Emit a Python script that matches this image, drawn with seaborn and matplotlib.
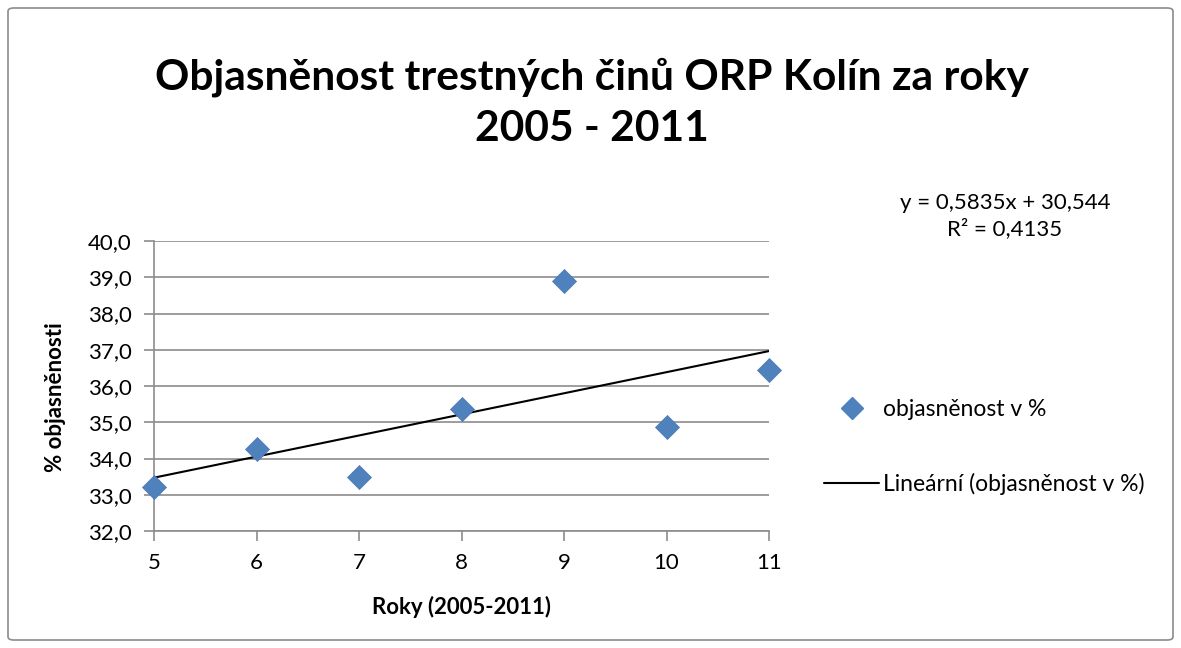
import matplotlib
matplotlib.use("Agg")
import matplotlib.pyplot as plt
import seaborn as sns
import pandas as pd
from matplotlib.patches import FancyBboxPatch
from matplotlib.lines import Line2D

years = [5, 6, 7, 8, 9, 10, 11]
values = [33.22, 34.25, 33.48, 35.37, 38.89, 34.88, 36.43]
y_ticks = [32.0, 33.0, 34.0, 35.0, 36.0, 37.0, 38.0, 39.0, 40.0]
x_ticks = [5, 6, 7, 8, 9, 10, 11]

title = "Objasněnost trestných činů ORP Kolín za roky\n2005 - 2011"
series_label = "objasněnost v %"
trend_label = "Lineární (objasněnost v %)"
equation = "y = 0,5835x + 30,544\nR² = 0,4135"

sns.set_theme(style="white")
plt.rcParams["font.family"] = ["Lato", "DejaVu Sans"]
plt.rcParams["text.color"] = "black"

df = pd.DataFrame({"rok": years, "val": values})

fig = plt.figure(figsize=(11.81, 6.48), dpi=100)
ax = fig.add_axes([154 / 1181, 1 - 531 / 648, (769 - 154) / 1181, (531 - 241) / 648])

# figure border
fig.patches.append(FancyBboxPatch((8 / 1181, 8 / 648), 1165 / 1181, 632 / 648,
                                  boxstyle="round,pad=0,rounding_size=0.005",
                                  transform=fig.transFigure, fill=False,
                                  edgecolor="#8c8c8c", linewidth=1.2))

sns.regplot(data=df, x="rok", y="val", scatter=False, ci=None, ax=ax,
            line_kws=dict(color="black", lw=1.5, zorder=3))
sns.scatterplot(data=df, x="rok", y="val", marker="D", s=150, color="#4f81bd",
                edgecolor="#4a7ab5", linewidth=0.5, ax=ax, zorder=4, clip_on=False)

ax.set_xlim(5, 11)
ax.set_ylim(32, 40)
ax.set_xticks(x_ticks)
ax.set_xticklabels([str(x) for x in x_ticks])
ax.set_yticks(y_ticks)
ax.set_yticklabels([f"{v:.1f}".replace(".", ",") for v in y_ticks])
ax.yaxis.grid(True, color="#8c8c8c", lw=1.2)
ax.xaxis.grid(False)
for s in ["top", "right"]:
    ax.spines[s].set_visible(False)
for s in ["left", "bottom"]:
    ax.spines[s].set_color("#8c8c8c")
    ax.spines[s].set_linewidth(1.2)
ax.tick_params(axis="both", which="major", direction="out", length=7, width=1.2,
               color="#8c8c8c", labelsize=16, labelcolor="black", pad=9)
ax.tick_params(left=True, bottom=True)
ax.set_xlabel("")
ax.set_ylabel("")

fig.text(462 / 1181, 1 - 607 / 648, "Roky (2005-2011)", ha="center", va="center",
         fontsize=16, fontweight="bold")
fig.text(55 / 1181, 1 - 397 / 648, "% objasněnosti", ha="center", va="center",
         rotation=90, fontsize=16, fontweight="bold")

fig.text(592 / 1181, 1 - 103 / 648, title, ha="center", va="center",
         fontsize=30.6, fontweight="bold", linespacing=1.42)
fig.text(1005 / 1181, 1 - 216 / 648, equation, ha="center", va="center",
         fontsize=16, linespacing=1.3)

handles = [Line2D([], [], marker="D", ls="none", color="#4f81bd", markersize=11),
           Line2D([], [], color="black", lw=1.5)]
fig.legend(handles, [series_label, trend_label], loc="center left",
           bbox_to_anchor=(815 / 1181, 1 - 447 / 648), frameon=False,
           fontsize=16.5, handlelength=2.4, handletextpad=0.15, labelspacing=2.3,
           borderpad=0.4, borderaxespad=0)

fig.savefig("out.png", dpi=100)
